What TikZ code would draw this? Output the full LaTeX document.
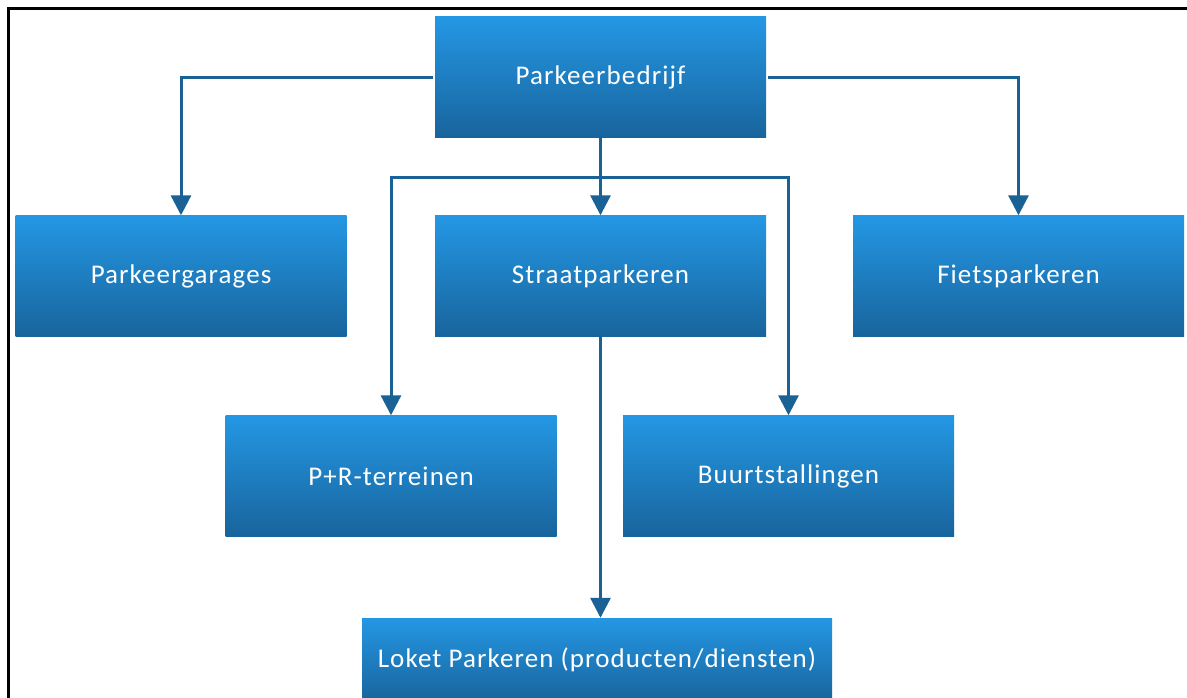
\documentclass[tikz,border=0pt]{standalone}
\usepackage{fontspec}
\setmainfont{Carlito}
\newfontfamily\boxfont[LetterSpace=4]{Carlito}
\usetikzlibrary{arrows.meta}
\definecolor{boxtop}{RGB}{36,151,228}
\definecolor{boxbot}{RGB}{24,100,156}
\definecolor{lnk}{RGB}{26,98,150}
\tikzset{
  orgbox/.style={rectangle, top color=boxtop, bottom color=boxbot, draw=none,
    minimum width=331pt, minimum height=121pt, inner sep=0pt,
    text=white, font=\boxfont\fontsize{27}{30}\selectfont},
  conn/.style={draw=lnk, line width=3pt, -{Triangle[width=20pt,length=20pt]}},
}
\begin{document}
\begin{tikzpicture}[x=1pt,y=-1pt]
\useasboundingbox (0,0) rectangle (1187,698);
\clip (0,0) rectangle (1187,698);
\fill[white] (0,0) rectangle (1187,698);
\draw[black, line width=3pt] (8,698) -- (8,8.5) -- (1187,8.5);

\node[orgbox] (pb) at (600.5,77.5) {Parkeerbedrijf};
\node[orgbox] (pg) at (181,276) {Parkeergarages};
\node[orgbox] (sp) at (600.5,276) {Straatparkeren};
\node[orgbox] (fp) at (1018.5,276) {Fietsparkeren};
\node[orgbox] (pr) at (391,476) {P+R-terreinen};
\node[orgbox] (bs) at (788.5,476) {Buurtstallingen};
\node[orgbox, minimum width=470pt, minimum height=84pt] (lp) at (597,660) {Loket Parkeren (producten/diensten)};

\coordinate (br) at (600.5,178);
\draw[conn] ([xshift=-2pt]pb.west) -| (pg.north);
\draw[conn] ([xshift=2pt]pb.east) -| (fp.north);
\draw[conn] ([yshift=2pt]pb.south) -- (sp.north);
\draw[conn] (br) -| (pr.north);
\draw[conn] (br) -| (bs.north);
\draw[conn] ([yshift=2pt]sp.south) -- (sp.south |- lp.north);
\end{tikzpicture}
\end{document}
